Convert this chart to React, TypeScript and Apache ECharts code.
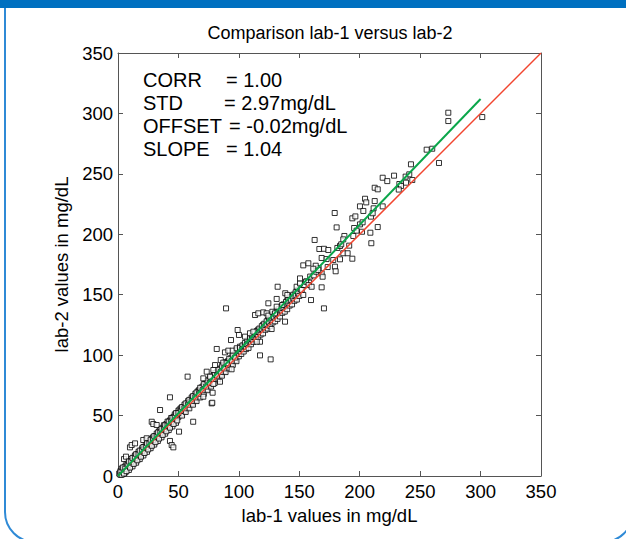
import React, { useEffect, useRef } from "react";
import * as echarts from "echarts";

const xTicks = [0, 50, 100, 150, 200, 250, 300, 350];
const titleText = "Comparison lab-1 versus lab-2";
const xName = "lab-1 values in mg/dL";
const yName = "lab-2 values in mg/dL";
const statLabels = ["CORR", "STD", "OFFSET", "SLOPE"];
const statValues = ["= 1.00", "= 2.97mg/dL", "= -0.02mg/dL", "= 1.04"];
const fitSlope = 1.04;
const fitOffset = -0.02;
const fitEnd = 300;

// measured pairs [lab-1, lab-2]
const lowBand: number[][] = [
  [1,2],[2,1],[2,4],[3,3],[3,6],[4,2],[4,5],[5,7],[5,4],[6,3],[6,8],[7,6],[7,10],[8,7],[8,11],[9,8],[9,5],[10,12],[10,9],[11,10],[11,14],[12,11],[12,8],[13,15],[13,12],[14,13],[14,17],[15,14],[15,11],[16,18],[16,15],[17,16],[17,20],[18,17],[18,14],[19,21],[19,18],[20,19],[20,23],[21,20],[21,17],[22,24],[22,22],[23,22],[23,26],[24,23],[24,20],[25,27],[25,25],[26,25],[26,29],[27,26],[27,23],[28,31],[28,28],[29,28],[29,32],[30,29],[30,26],[31,33],[31,31],[32,31],[32,35],[33,32],[33,29],[34,37],[34,35],[35,34],[35,38],[36,35],[36,32],[37,40],[37,38],[38,37],[38,42],[39,38],[39,35],[40,43],[40,41],[41,40],[41,45],[42,41],[42,38],[43,46],[43,44],[44,43],[44,48],[45,44],[45,41],[46,49],[46,47],[47,46],[47,51],[48,47],[48,44],[49,52],[49,50],[50,49],[50,54]
];
const lowOutliers: number[][] = [
  [5,14],[6.6,16],[9.9,23.7],[11.3,25.6],[14.1,27],[20.9,29.8],[23.7,31.2],[27.9,44.9],[29.2,43],[32,42.2],[34.8,54.6],[43,65.1],[43,29],[44.4,25.6],[45.8,23.7],[50.5,36.7],[57.6,82.2],[62.2,44.9],[77.5,60.1]
];
const midBand: number[][] = [
  [51,52],[51,55],[52,51],[52,56],[53,54],[53,50],[54,57],[54,55],[55,54],[55,59],[56,57],[56,53],[57,60],[57,58],[58,57],[58,62],[59,60],[59,56],[60,63],[60,61],[61,60],[61,65],[62,63],[62,59],[63,66],[63,64],[64,63],[64,68],[65,66],[65,62],[66,70],[66,68],[67,66],[67,71],[68,70],[68,65],[69,72],[69,73],[70,69],[70,74],[71,73],[71,68],[72,76],[72,75],[73,72],[73,77],[74,76],[74,71],[75,79],[75,78],[76,75],[76,80],[77,79],[77,74],[78,82],[78,81],[79,78],[79,83],[80,82],[80,77],[81,85],[81,84],[82,81],[82,86],[83,85],[83,80],[84,88],[84,87],[85,84],[85,89],[86,88],[86,83],[87,91],[87,90],[88,87],[88,92],[89,91],[89,86],[90,94],[90,93],[91,90],[91,95],[92,94],[92,89],[93,97],[93,96],[94,93],[94,98],[95,97],[95,92],[96,100],[96,99],[97,96],[97,101],[98,100],[98,95],[99,103],[99,102],[100,99],[100,104]
];
const midOutliers: number[][] = [
  [85,96],[87.1,93.8],[89.9,93.3],[80.3,91.8],[78.9,87.7],[73.4,86.3],[70.6,80.8],[76.1,82.2],[94,88.3],[84.4,78],[78.9,76.1],[78.3,68.9],[70.6,65.6],[78,60.6],[81.7,105.1],[88.5,102.3],[91.3,103.7],[94.9,103.7],[98.2,105.7],[100.9,107],[89.4,138.7],[93.5,112.5],[99,120.8],[100.1,116.7]
];
const highBand: number[][] = [
  [101,103],[101,106],[102,101],[103,108],[103,105],[104,103],[105,110],[105,107],[106,105],[107,112],[107,109],[108,106],[109,114],[109,111],[110,109],[111,116],[111,113],[112,111],[113,118],[113,115],[114,113],[115,120],[115,117],[116,115],[117,122],[117,119],[118,117],[119,124],[119,121],[120,118],[121,126],[121,123],[122,121],[123,128],[123,125],[124,122],[125,130],[125,127],[126,124],[127,132],[127,129],[128,127],[129,134],[129,131],[130,128],[131,136],[131,133],[132,130],[133,138],[133,135],[134,132],[135,140],[135,137],[136,135],[137,142],[137,139],[138,136],[139,144],[139,141],[140,138],[141,146],[141,143],[142,141],[143,148],[143,145],[144,142],[145,150],[145,147],[146,145],[147,152],[147,149],[148,146],[149,154],[149,151],[150,149],[151,155],[154,158],[156,161],[158,160],[159,165],[162,166],[164,169],[166,172]
];
const extraBand: number[][] = [
  [2,3],[3,1],[4,7],[5,2],[6,6],[7,4],[8,9],[9,12],[10,7],[11,12],[12,15],[13,10],[14,15],[15,18],[16,13],[17,18],[18,21],[19,16],[20,21],[21,24],[22,19],[23,24],[24,27],[25,22],[26,27],[27,30],[28,25],[29,30],[30,33],[31,28],[32,33],[33,36],[34,31],[35,36],[36,39],[37,34],[38,39],[39,42],[40,37],[41,42],[42,45],[43,40],[44,45],[45,48],[46,43],[47,49],[48,52],[49,46],[50,52],[52,54],[53,57],[55,56],[56,60],[58,59],[59,63],[61,62],[62,66],[64,65],[65,69],[67,68],[68,73],[70,71],[71,76],[73,74],[74,79],[76,77],[77,82],[79,80],[80,85],[82,83],[83,88],[85,86],[86,91],[88,89],[89,94],[91,92],[92,97],[94,95],[95,100],[97,98],[98,104],[100,101],[102,104],[104,108],[106,108],[108,112],[110,113],[112,116],[114,117],[116,121],[118,121],[120,125],[122,125],[124,129],[126,129],[128,133],[130,133],[132,137],[134,137],[136,141],[138,141],[140,145],[142,146],[144,149],[146,150],[148,153]
];
const highOutliers: number[][] = [
  [105.1,115.3],[109.2,118.1],[112,119.4],[117.5,111.1],[114.8,111.1],[117.5,99.8],[126.3,96.5],[113.4,133.2],[116.1,134.6],[120.2,135.4],[123,134.6],[124.4,132.7],[127.7,135.9],[129.9,134.6],[138.2,127.7],[127.1,121.6],[124.4,142.9],[131.3,146.5],[138.4,151.2],[140.1,149.8],[147.8,156.6],[150.6,159.4],[131.3,140.1],[135.9,141.5],[132.1,156.6]
];
const topPoints: number[][] = [
  [152,153.9],[153.3,149.8],[159.7,145.6],[170.4,138.7],[168.5,156.1],[150.6,163.5],[155.5,160.8],[157.7,158],[160.2,156.6],[168.5,167.7],[169.3,164.9],[165.7,170.4],[153.3,174.3],[157.5,176],[163.6,174],[161.6,171.5],[179.5,173.2],[180.1,169.4],[173.5,172.9],[168.5,180.4],[172.6,179.5],[178.1,178.7],[186.4,184.3],[190,184.3],[183.7,179.3],[193.9,179.8],[166.6,187.8],[170.4,188],[174,187],[181.5,188.7],[183.7,190.3],[184.7,191.7],[191.3,190.6],[162.7,195.3],[187.3,198.6],[186.4,195.8],[194.7,198.6],[180.9,205.7],[195.4,205.2],[197.4,203],[201.9,202.1],[208.8,201.3],[214.9,206],[209.6,192.6],[179.3,217.6],[193.9,213.2],[196.4,214.8],[200.2,208.2],[202.4,209.9],[209.3,214.6],[200.2,223.1],[203,219.3],[212.4,227.5],[211.5,221.5],[210.7,217.4],[219,223.1],[204.4,229.4],[205.4,226.4],[212.4,238.5],[214.9,237.2],[219,246.8],[222.8,244],[228.4,248.5],[238,247.7],[241,249.6],[232.8,241.6],[234.2,240],[232.3,237],[238.3,242.7],[243.5,244.9],[242.4,257.9],[265.6,259],[255.4,270],[260,270.8],[273.3,300.6],[273.3,293.7],[301.4,297]
];

const FONT = 'Arial, "Liberation Sans", sans-serif';

export default function App() {
  const ref = useRef<HTMLDivElement>(null);
  useEffect(() => {
    document.body.style.margin = "0";
    const chart = echarts.init(ref.current!, null, { renderer: "svg" });
    const points = [
      ...lowBand, ...lowOutliers, ...midBand, ...extraBand, ...midOutliers,
      ...highBand, ...highOutliers, ...topPoints,
    ];
    const axisLine = { show: true, onZero: false, lineStyle: { color: "#555", width: 1 } };
    const tick = { show: true, inside: true, length: 5, lineStyle: { color: "#555" } };
    const base = { min: 0, max: 350, interval: 50, splitLine: { show: false } };
    chart.setOption({
      animation: false,
      backgroundColor: "#fff",
      grid: { left: 118, top: 53, width: 423, height: 423 },
      xAxis: [
        {
          ...base, type: "value", position: "bottom",
          axisLine, axisTick: tick,
          axisLabel: { color: "#000", fontSize: 18.5, fontFamily: FONT, margin: 6,
            formatter: (v: number) => (xTicks.includes(v) ? String(v) : "") },
          name: xName, nameLocation: "middle", nameGap: 25,
          nameTextStyle: { color: "#000", fontSize: 18.5, fontFamily: FONT },
        },
        { ...base, type: "value", position: "top", axisLine, axisTick: tick, axisLabel: { show: false } },
      ],
      yAxis: [
        {
          ...base, type: "value", position: "left",
          axisLine, axisTick: tick,
          axisLabel: { color: "#000", fontSize: 18.5, fontFamily: FONT, margin: 5 },
          name: yName, nameLocation: "middle", nameGap: 46,
          nameTextStyle: { color: "#000", fontSize: 18.5, fontFamily: FONT },
        },
        { ...base, type: "value", position: "right", axisLine, axisTick: tick, axisLabel: { show: false } },
      ],
      series: [
        {
          type: "scatter", data: points, symbol: "rect", symbolSize: 5,
          itemStyle: { color: "#fff", borderColor: "#000", borderWidth: 1 }, z: 2,
        },
        {
          type: "line", data: [[0, 0], [350, 350]], showSymbol: false,
          lineStyle: { color: "#f2452e", width: 1.5 }, z: 3,
        },
        {
          type: "line", data: [[0, fitOffset], [fitEnd, fitEnd * fitSlope + fitOffset]], showSymbol: false,
          lineStyle: { color: "#0aa64a", width: 2 }, z: 4,
        },
      ],
      graphic: [
        { type: "rect", shape: { x: 0, y: 0, width: 626, height: 8 }, style: { fill: "#0070c0" }, z: 10 },
        { type: "rect", shape: { x: 5, y: -30, width: 628, height: 572, r: 30 },
          style: { fill: "none", stroke: "#2f8ad6", lineWidth: 2 }, z: 9 },
        { type: "text", x: 330, y: 33, style: { text: titleText, fontSize: 18, fontFamily: FONT, fill: "#000", align: "center", verticalAlign: "middle" } },
        ...statLabels.map((s, i) => ({
          type: "text", x: 143, y: 79.5 + i * 23.3, z: 20,
          style: { text: s, fontSize: 20, fontFamily: FONT, fill: "#000", verticalAlign: "middle" },
        })),
        ...statValues.map((s, i) => ({
          type: "text", x: [226, 224, 229, 226][i], y: 79.5 + i * 23.3, z: 20,
          style: { text: s, fontSize: 20, fontFamily: FONT, fill: "#000", verticalAlign: "middle" },
        })),
      ],
    });
    return () => chart.dispose();
  }, []);
  return <div ref={ref} style={{ width: 626, height: 539, position: "fixed", left: 0, top: 0 }} />;
}
